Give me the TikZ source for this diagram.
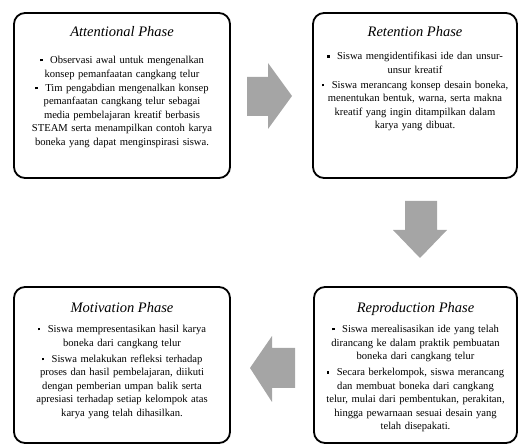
\documentclass[tikz,border=0pt]{standalone}
\usepackage{fontspec}
\setmainfont{Liberation Serif}
\usetikzlibrary{positioning}
\definecolor{arrowgray}{HTML}{A5A5A5}
\newcommand{\sqbul}{\rule[0.45ex]{2.6pt}{2.6pt}\hspace{0.7em}}
\tikzset{
  phasebox/.style={draw, line width=1.8pt, rounded corners=11pt, inner sep=0pt},
  phasetitle/.style={inner sep=0pt, font=\fontsize{14.5}{16}\selectfont\itshape},
  phasetext/.style={inner sep=0pt, align=center, text width=214pt,
    font=\fontsize{10.6}{13.4}\selectfont},
  blockarrow/.style={fill=arrowgray, draw=none}
}
\begin{document}
\begin{tikzpicture}[x=1pt,y=-1pt]
   \useasboundingbox (0,0) rectangle (520,446);
   \node[phasebox, minimum width=216pt, minimum height=165pt] (att) at (122,95.5) {};
   \node[phasebox, minimum width=204pt, minimum height=165pt] (ret) at (415,95.5) {};
   \node[phasebox, minimum width=216pt, minimum height=156pt] (mot) at (122,365) {};
   \node[phasebox, minimum width=203pt, minimum height=156pt] (rep) at (415.5,365) {};
   \node[phasetitle, below=14pt of att.north] (atttitle) {Attentional Phase};
   \node[phasetitle, below=14pt of ret.north] (rettitle) {Retention Phase};
   \node[phasetitle, below=16pt of mot.north] (mottitle) {Motivation Phase};
   \node[phasetitle, below=16pt of rep.north] (reptitle) {Reproduction Phase};
   \node[phasetext, below=44pt of att.north] (atttext) {%
      \sqbul Observasi awal untuk mengenalkan\\
      konsep pemanfaatan cangkang telur\\[1pt]
      \sqbul Tim pengabdian mengenalkan konsep\\
      pemanfaatan cangkang telur sebagai\\
      media pembelajaran kreatif berbasis\\
      STEAM serta menampilkan contoh karya\\
      boneka yang dapat menginspirasi siswa.};
   \node[phasetext, below=40pt of ret.north] (rettext) {%
      \sqbul Siswa mengidentifikasi ide dan unsur-\\
      unsur kreatif\\[2pt]
      \sqbul Siswa merancang konsep desain boneka,\\
      menentukan bentuk, warna, serta makna\\
      kreatif yang ingin ditampilkan dalam\\
      karya yang dibuat.};
   \node[phasetext, below=39pt of mot.north] (mottext) {%
      \sqbul Siswa mempresentasikan hasil karya\\
      boneka dari cangkang telur\\[3pt]
      \sqbul Siswa melakukan refleksi terhadap\\
      proses dan hasil pembelajaran, diikuti\\
      dengan pemberian umpan balik serta\\
      apresiasi terhadap setiap kelompok atas\\
      karya yang telah dihasilkan.};
   \node[phasetext, below=39pt of rep.north] (reptext) {%
      \sqbul Siswa merealisasikan ide yang telah\\
      dirancang ke dalam praktik pembuatan\\
      boneka dari cangkang telur\\[3pt]
      \sqbul Secara berkelompok, siswa merancang\\
      dan membuat boneka dari cangkang\\
      telur, mulai dari pembentukan, perakitan,\\
      hingga pewarnaan sesuai desain yang\\
      telah disepakati.};
   \fill[blockarrow] (247,77) -- (268,77) -- (268,63) -- (292,96) -- (268,129) -- (268,116) -- (247,116) -- cycle;
   \fill[blockarrow] (405,201) -- (437,201) -- (437,230) -- (447,230) -- (420,258) -- (393,230) -- (405,230) -- cycle;
   \fill[blockarrow] (295,348) -- (272,348) -- (272,336) -- (250,368) -- (272,402) -- (272,388) -- (295,388) -- cycle;
\end{tikzpicture}
\end{document}
